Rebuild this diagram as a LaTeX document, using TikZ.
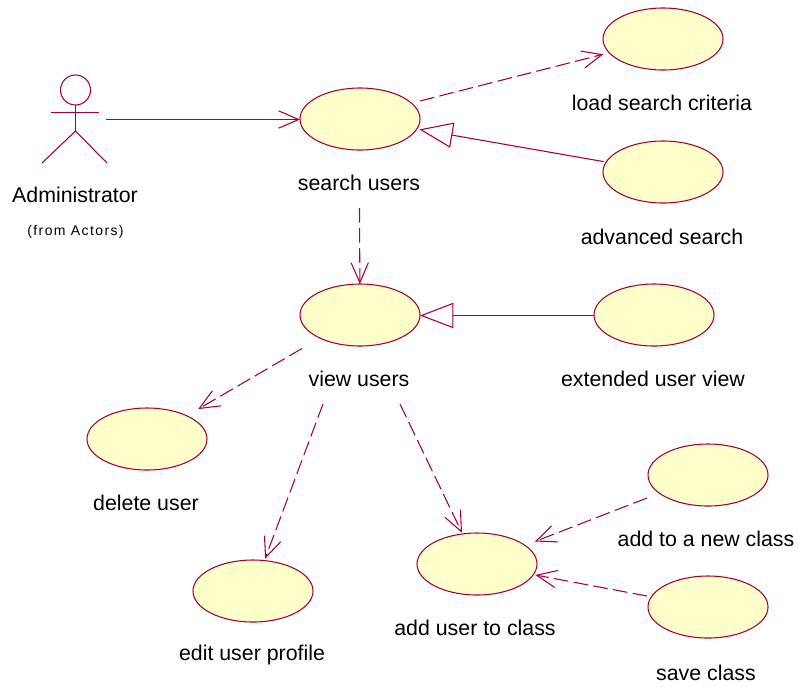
\documentclass[tikz,border=0pt]{standalone}
\usepackage{fontspec}
\setmainfont{Liberation Sans}
\usetikzlibrary{arrows.meta,shapes.geometric}
\definecolor{umlline}{HTML}{A80036}
\definecolor{umlfill}{HTML}{FFFFCC}
\tikzset{
  x=0.75pt,y=-0.75pt,
  usecase/.style={ellipse,draw=umlline,fill=umlfill,line width=0.8pt,minimum width=90pt,minimum height=46.5pt,inner sep=0pt,outer sep=0pt},
  lbl/.style={font=\fontsize{16pt}{18pt}\selectfont,text=black,inner sep=0pt,anchor=center},
  actorline/.style={draw=umlline,line width=0.8pt},
  assoc/.style={draw=umlline,line width=0.8pt,-{Straight Barb[length=15pt,width=13pt,line width=0.8pt]}},
  dep/.style={assoc,dash pattern=on 11pt off 4pt},
  gen/.style={draw=umlline,line width=0.8pt,-{Triangle[open,length=25pt,width=19pt,line width=0.8pt]}}
}
\begin{document}
\begin{tikzpicture}
\useasboundingbox (0,0) rectangle (798,686);
% use cases
\node[usecase] (search) at (360,119) {};
\node[usecase] (load) at (663,39) {};
\node[usecase] (adv) at (663,172) {};
\node[usecase] (view) at (360,315) {};
\node[usecase] (ext) at (654,315) {};
\node[usecase] (del) at (147,439) {};
\node[usecase] (edit) at (253,591) {};
\node[usecase] (add) at (477,564) {};
\node[usecase] (new) at (708,475) {};
\node[usecase] (save) at (708,607) {};
% labels
\node[lbl] (tsearch) at (359,183) {search users};
\node[lbl] (tload) at (662,103) {load search criteria};
\node[lbl] (tadv) at (662,237) {advanced search};
\node[lbl] (tview) at (359,379) {view users};
\node[lbl] (text) at (653,379) {extended user view};
\node[lbl] (tdel) at (146,503) {delete user};
\node[lbl] (tedit) at (252,655) {edit user profile};
\node[lbl] (tadd) at (475,628) {add user to class};
\node[lbl] (tnew) at (706,539) {add to a new class};
\node[lbl] (tsave) at (706,673) {save class};
\node[lbl] (tadmin) at (75,195) {Administrator};
\node[font=\fontsize{10.5pt}{12pt}\selectfont\addfontfeature{LetterSpace=10},inner sep=0pt] (tfrom) at (75.5,232) {(from Actors)};
% actor
\node[circle,draw=umlline,line width=0.8pt,minimum size=22.5pt,inner sep=0pt,outer sep=0pt] (head) at (75.5,90) {};
\coordinate (hip) at (75.5,131);
\coordinate (armL) at (51,112.5);
\coordinate (armR) at (99,112.5);
\coordinate (legL) at (42,163);
\coordinate (legR) at (107,163);
\draw[actorline] (head.south) -- (hip);
\draw[actorline] (armL) -- (armR);
\draw[actorline] (legL) -- (hip) -- (legR);
% free ends of connectors
\coordinate (s0) at (106,119.5);
\coordinate (e0) at (300,119.5);
\coordinate (s1) at (420,101);
\coordinate (s2) at (359.5,208);
\coordinate (s3) at (302,348.5);
\coordinate (s4) at (323,404);
\coordinate (s5) at (400,404);
\coordinate (s6) at (647,498);
\coordinate (s7) at (647,596);
\coordinate (s8) at (594,315.5);
\coordinate (e8) at (420,315.5);
% connectors
\draw[assoc] (s0) -- (e0);
\draw[dep,shorten >=4.5pt] (s1) -- (load);
\draw[gen,shorten >=2pt,shorten <=2pt] (adv) -- (search);
\draw[dep] (s2) -- (view);
\draw[gen] (s8) -- (e8);
\draw[dep,shorten >=10pt] (s3) -- (del);
\draw[dep,shorten >=1.5pt] (s4) -- (edit);
\draw[dep,shorten >=1pt] (s5) -- (add);
\draw[dep,shorten >=8pt] (s6) -- (add);
\draw[dep,shorten >=1.5pt] (s7) -- (add);
\end{tikzpicture}
\end{document}
